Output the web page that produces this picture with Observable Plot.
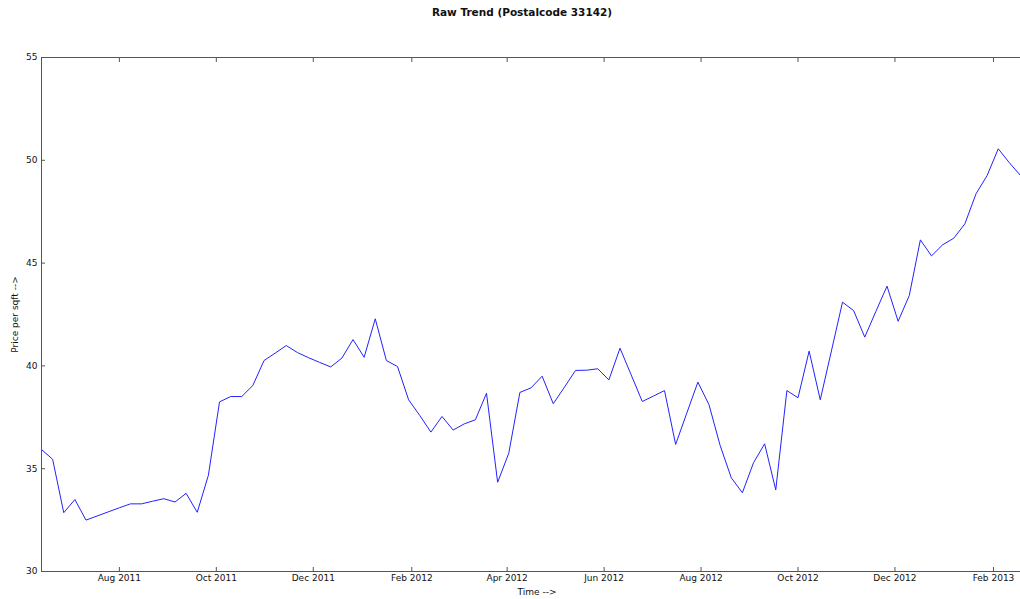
<!DOCTYPE html>
<html>
<head>
<meta charset="utf-8">
<script src="https://cdn.jsdelivr.net/npm/d3@7"></script>
<script src="https://cdn.jsdelivr.net/npm/@observablehq/plot@0.6"></script>
<style>
  html, body { margin: 0; padding: 0; background: #fff; }
  #chart { width: 1020px; height: 599px; overflow: hidden; }
</style>
</head>
<body>
<div id="chart"></div>
<script>
const titleText = "Raw Trend (Postalcode 33142)";
const xLabel = "Time -->";
const yLabel = "Price per sqft -->";

const dates = [
  "2011-06-13","2011-06-20","2011-06-27","2011-07-04","2011-07-11","2011-07-18","2011-07-25","2011-08-01",
  "2011-08-08","2011-08-15","2011-08-22","2011-08-29","2011-09-05","2011-09-12","2011-09-19","2011-09-26",
  "2011-10-03","2011-10-10","2011-10-17","2011-10-24","2011-10-31","2011-11-07","2011-11-14","2011-11-21",
  "2011-11-28","2011-12-05","2011-12-12","2011-12-19","2011-12-26","2012-01-02","2012-01-09","2012-01-16",
  "2012-01-23","2012-01-30","2012-02-06","2012-02-13","2012-02-20","2012-02-27","2012-03-05","2012-03-12",
  "2012-03-19","2012-03-26","2012-04-02","2012-04-09","2012-04-16","2012-04-23","2012-04-30","2012-05-07",
  "2012-05-14","2012-05-21","2012-05-28","2012-06-04","2012-06-11","2012-06-18","2012-06-25","2012-07-02",
  "2012-07-09","2012-07-16","2012-07-23","2012-07-30","2012-08-06","2012-08-13","2012-08-20","2012-08-27",
  "2012-09-03","2012-09-10","2012-09-17","2012-09-24","2012-10-01","2012-10-08","2012-10-15","2012-10-22",
  "2012-10-29","2012-11-05","2012-11-12","2012-11-19","2012-11-26","2012-12-03","2012-12-10","2012-12-17",
  "2012-12-24","2012-12-31","2013-01-07","2013-01-14","2013-01-21","2013-01-28","2013-02-04","2013-02-11",
  "2013-02-18"
];

const prices = [
  35.93, 35.46, 32.86, 33.50, 32.50, 32.70, 32.90, 33.10,
  33.29, 33.29, 33.42, 33.54, 33.38, 33.80, 32.88, 34.68,
  38.25, 38.51, 38.51, 39.05, 40.26, 40.62, 40.99, 40.65,
  40.40, 40.17, 39.95, 40.38, 41.28, 40.42, 42.29, 40.26,
  39.97, 38.35, 37.59, 36.78, 37.54, 36.88, 37.18, 37.38,
  38.67, 34.34, 35.75, 38.71, 38.93, 39.50, 38.16, 38.96,
  39.78, 39.79, 39.86, 39.32, 40.86, 39.57, 38.27, 38.53,
  38.80, 36.18, 37.70, 39.21, 38.11, 36.13, 34.56, 33.83,
  35.29, 36.21, 33.97, 38.80, 38.45, 40.72, 38.35, 40.72,
  43.10, 42.69, 41.40, 42.65, 43.88, 42.17, 43.42, 46.13,
  45.35, 45.89, 46.21, 46.91, 48.37, 49.26, 50.56, 49.88,
  49.26
];

const xTicks = ["2011-08-01","2011-10-01","2011-12-01","2012-02-01","2012-04-01","2012-06-01",
                "2012-08-01","2012-10-01","2012-12-01","2013-02-01"];
const yTicks = [30, 35, 40, 45, 50, 55];

const parse = d3.utcParse("%Y-%m-%d");
const data = dates.map((d, i) => ({date: parse(d), price: prices[i]}));
const xTickDates = xTicks.map(parse);
const xDomain = [parse(dates[0]), parse(dates[dates.length - 1])];

const spine = "#555";

const chart = Plot.plot({
  width: 1020,
  height: 599,
  marginLeft: 41,
  marginRight: 0,
  marginTop: 57,
  marginBottom: 28,
  style: {fontFamily: "DejaVu Sans", fontSize: "9px", background: "#fff", color: "#111"},
  x: {type: "utc", domain: xDomain},
  y: {domain: [30, 55]},
  marks: [
    Plot.line(data, {x: "date", y: "price", stroke: "#2222ff", strokeWidth: 1, clip: true}),
    Plot.ruleY([30, 55], {stroke: spine, strokeWidth: 1}),
    Plot.ruleX([xDomain[0]], {stroke: spine, strokeWidth: 1}),
    Plot.axisY({ticks: yTicks, tickSize: -4, text: null, stroke: spine, label: null}),
    Plot.axisY({ticks: yTicks, tickSize: 0, tickPadding: 4, tickFormat: d3.format("d"), label: null}),
    Plot.axisX({ticks: xTickDates, anchor: "bottom", tickSize: -4, text: null, stroke: spine, label: null}),
    Plot.axisX({ticks: xTickDates, anchor: "top", tickSize: -4, text: null, stroke: spine, label: null}),
    Plot.axisX({ticks: xTickDates, anchor: "bottom", tickSize: 0, tickPadding: 3, tickFormat: d3.utcFormat("%b %Y"), label: null}),
    Plot.text([titleText], {frameAnchor: "top", lineAnchor: "middle", dy: -45, dx: -9, fontWeight: "bold", fontSize: 10.5, fill: "#111"}),
    Plot.text([xLabel], {frameAnchor: "bottom", lineAnchor: "middle", dy: 21, dx: 6, fill: "#111"}),
    Plot.text([yLabel], {frameAnchor: "left", textAnchor: "middle", lineAnchor: "middle", rotate: -90, dx: -26, fill: "#111"})
  ]
});

document.getElementById("chart").appendChild(chart);
</script>
</body>
</html>
